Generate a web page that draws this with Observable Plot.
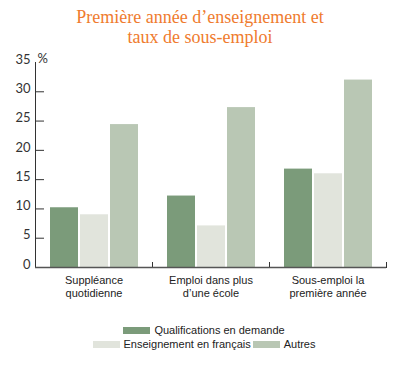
<!DOCTYPE html>
<html><head><meta charset="utf-8">
<script src="https://cdn.jsdelivr.net/npm/d3@7"></script>
<script src="https://cdn.jsdelivr.net/npm/@observablehq/plot@0.6"></script>
<style>
body{margin:0;background:#fff;width:400px;height:366px;overflow:hidden}
#title{font-family:"Liberation Serif","Times New Roman",serif;font-size:18px;line-height:20px;color:#ef7b2e;text-align:center;height:50px;box-sizing:border-box;padding-top:7px}
#chart svg{display:block}
#legend{font-family:"Liberation Sans",Arial,sans-serif;font-size:11px;color:#222;line-height:14px;margin-top:5px}
.row{display:flex;justify-content:center;align-items:center;padding-left:8px}
.sw{display:inline-block;width:27px;height:7px;margin-right:4px}
.item{display:flex;align-items:center;margin:0 1px}
</style></head><body>
<div id="title">Première année d’enseignement et<br>taux de sous-emploi</div>
<div id="chart"></div>
<div id="legend"></div>
<script>
const categories = ["Suppléance\nquotidienne", "Emploi dans plus\nd’une école", "Sous-emploi la\npremière année"];
const series = ["Qualifications en demande", "Enseignement en français", "Autres"];
const qualifications = [10.2, 12.2, 16.8];
const francais = [9.0, 7.1, 16.0];
const autres = [24.4, 27.3, 32.0];
const yTicks = [0, 5, 10, 15, 20, 25, 30, 35];
const colors = ["#7b9b7a", "#e1e4dc", "#b9c7b4"];

const values = [qualifications, francais, autres];
const data = [];
categories.forEach((c, i) => series.forEach((s, j) => data.push({cat: c, series: s, value: values[j][i]})));
const tickData = yTicks.filter(t => t > 0 && t < 35).map(t => ({fx: categories[0], y: t}));

const chart = Plot.plot({
  width: 400, height: 268,
  marginLeft: 35, marginRight: 14, marginTop: 12, marginBottom: 51,
  fx: {domain: categories, padding: 0, axis: null},
  x: {domain: series, paddingInner: 0.08, paddingOuter: 0.43, axis: null},
  y: {domain: [0, 35], axis: null},
  color: {domain: series, range: colors},
  style: {fontFamily: "Liberation Sans, Arial, sans-serif"},
  marks: [
    Plot.barY(data, {fx: "cat", x: "series", y: "value", fill: "series"}),
    Plot.ruleY(tickData, {fx: "fx", y: "y", insetRight: 108, stroke: "#333"}),
    Plot.frame({anchor: "left", facetAnchor: "left", stroke: "#333"}),
    Plot.frame({anchor: "right", insetTop: 200, stroke: "#333"}),
    Plot.ruleY([0], {stroke: "#555", strokeWidth: 1.5}),
    Plot.axisY(yTicks, {anchor: "left", tickSize: 0, tickPadding: 5, dy: -3, fontSize: 13, fill: "#333", label: null, fontFamily: "Lato, Noto Sans, sans-serif"}),
    Plot.text(["%"], {fx: [categories[0]], y: [35], text: d => d, frameAnchor: "left", textAnchor: "start", dx: 2, dy: -4, fontSize: 13, fill: "#333", fontFamily: "Lato, Noto Sans, sans-serif"}),
    Plot.axisFx({anchor: "bottom", tickSize: 0, tickPadding: 7, fontSize: 11, lineHeight: 1.18, label: null, fill: "#222"})
  ]
});
document.getElementById("chart").appendChild(chart);

const legend = document.getElementById("legend");
const rows = [[0], [1, 2]];
rows.forEach(r => {
  const row = document.createElement("div");
  row.className = "row";
  r.forEach(j => {
    const it = document.createElement("span");
    it.className = "item";
    it.innerHTML = `<span class="sw" style="background:${colors[j]}"></span>${series[j]}`;
    row.appendChild(it);
  });
  legend.appendChild(row);
});
</script>
</body></html>
